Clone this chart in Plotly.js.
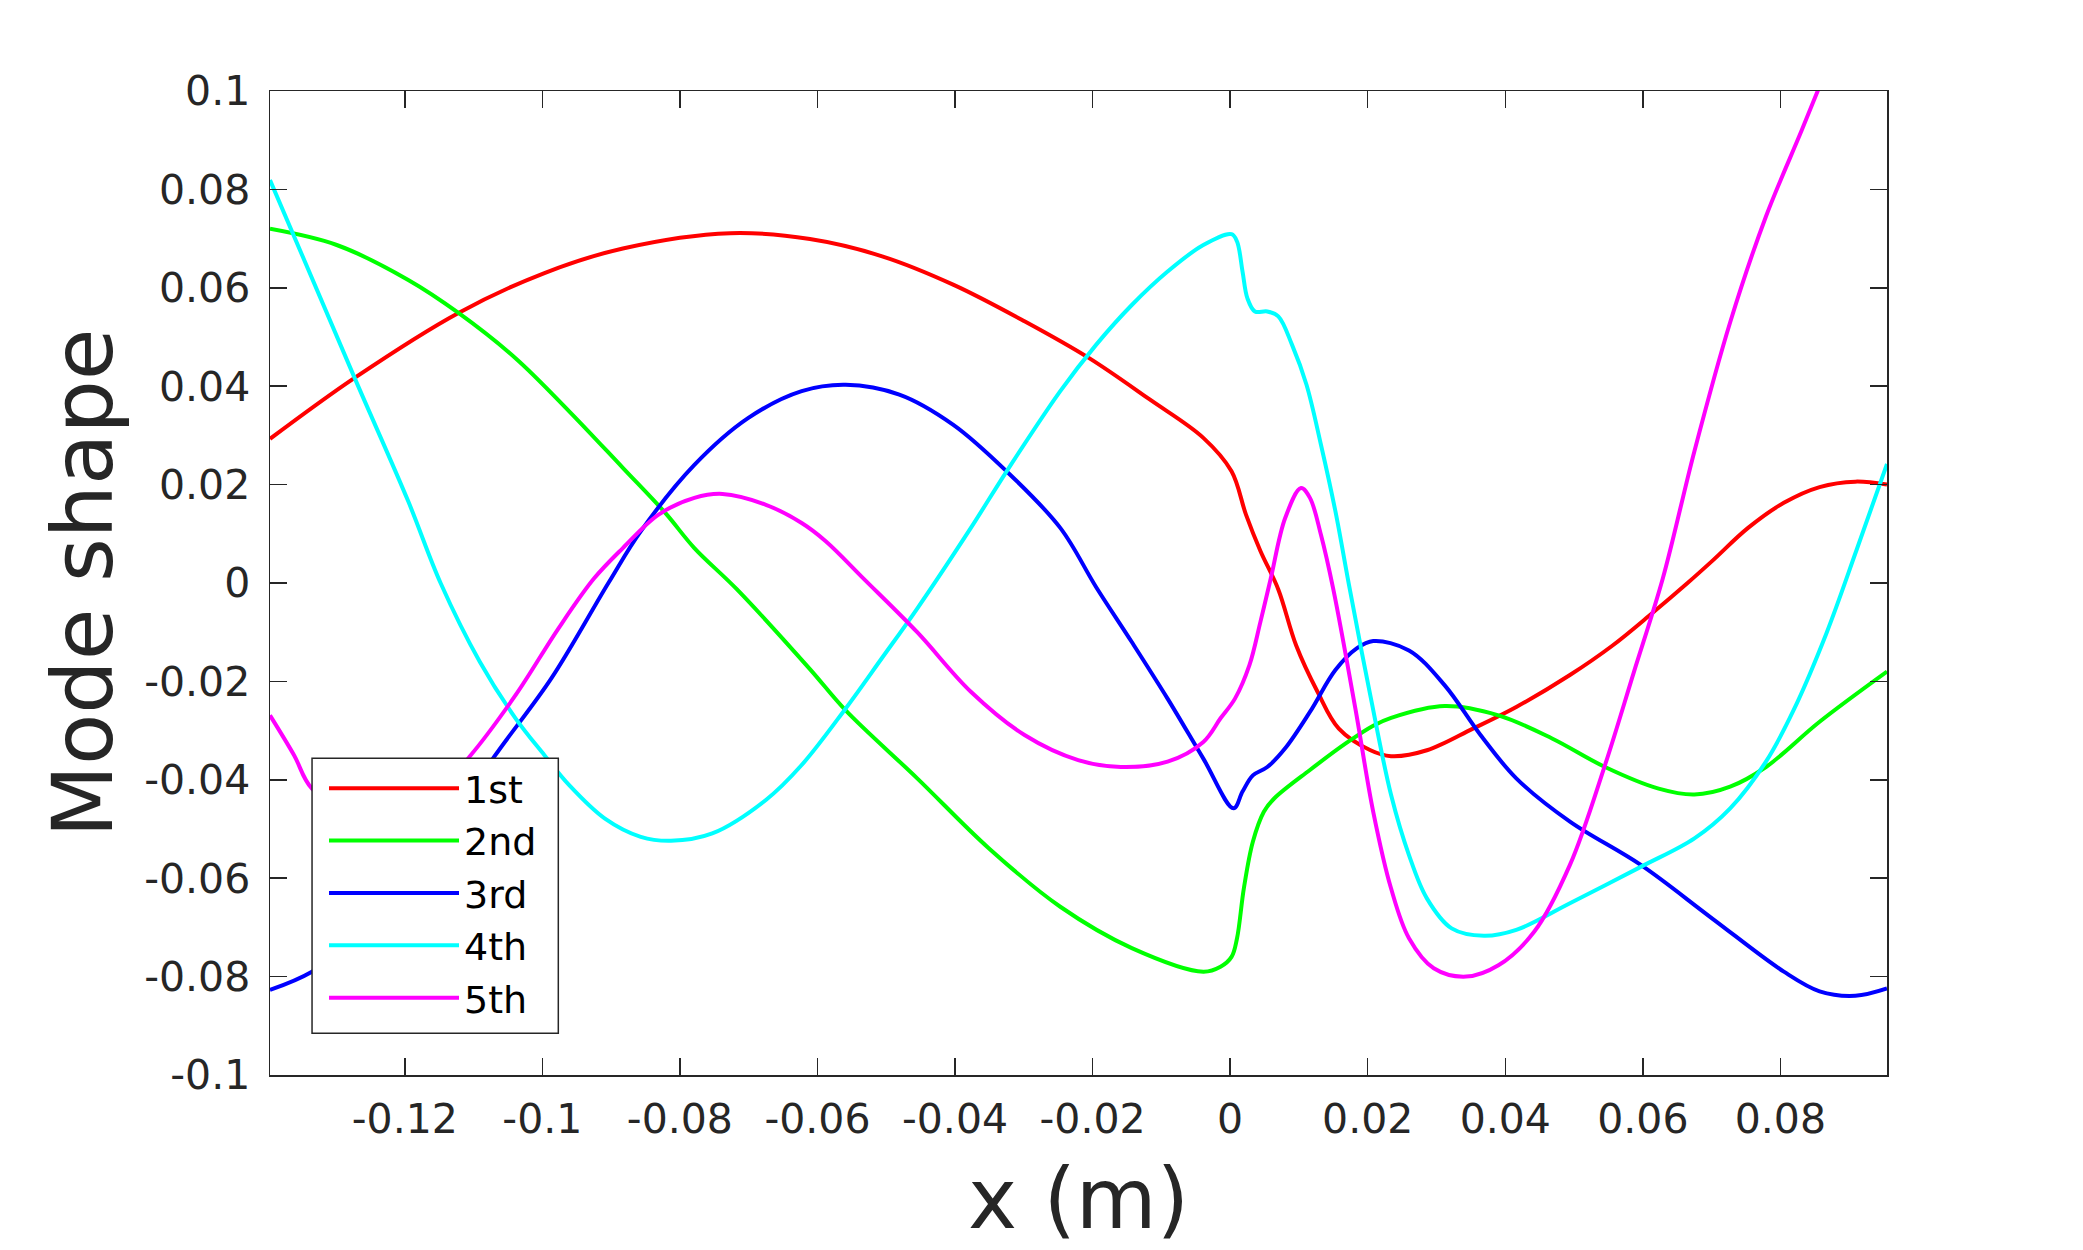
<!DOCTYPE html>
<html>
<head>
<meta charset="utf-8">
<script src="https://cdn.plot.ly/plotly-3.0.1.min.js"></script>
<style>
  html, body { margin: 0; padding: 0; background: #fff; }
  #chart { width: 2083px; height: 1250px; }
</style>
</head>
<body>
<div id="chart"></div>
<script>
// mode shapes (x in m)
const modeNames = ['1st', '2nd', '3rd', '4th', '5th'];

const x1st = [-0.1396, -0.1273, -0.1122, -0.0997, -0.0883, -0.0727, -0.0611, -0.0506, -0.0402, -0.0299, -0.0205, -0.0117, -0.0039, 0.0002, 0.0023, 0.0044, 0.0070, 0.0096, 0.0127, 0.0158, 0.0204, 0.0234, 0.0286, 0.0353, 0.0416, 0.0494, 0.0556, 0.0613, 0.0665, 0.0701, 0.0753, 0.0805, 0.0857, 0.0909, 0.0955];
const y1st = [0.0293, 0.0417, 0.0549, 0.0630, 0.0680, 0.0711, 0.0699, 0.0664, 0.0606, 0.0532, 0.0457, 0.0373, 0.0295, 0.0227, 0.0139, 0.0065, -0.0013, -0.0127, -0.0221, -0.0296, -0.0340, -0.0352, -0.0340, -0.0296, -0.0252, -0.0187, -0.0127, -0.0062, 0.0000, 0.0045, 0.0112, 0.0163, 0.0195, 0.0206, 0.0200];

const x2nd = [-0.1396, -0.1299, -0.1195, -0.1122, -0.1039, -0.0961, -0.0883, -0.0821, -0.0779, -0.0717, -0.0611, -0.0559, -0.0455, -0.0351, -0.0247, -0.0143, -0.0039, -0.0014, 0.0002, 0.0010, 0.0020, 0.0033, 0.0049, 0.0064, 0.0116, 0.0168, 0.0208, 0.0234, 0.0312, 0.0390, 0.0468, 0.0545, 0.0623, 0.0675, 0.0727, 0.0779, 0.0857, 0.0955];
const y2nd = [0.0720, 0.0687, 0.0616, 0.0549, 0.0457, 0.0349, 0.0234, 0.0142, 0.0071, -0.0013, -0.0175, -0.0259, -0.0397, -0.0539, -0.0658, -0.0742, -0.0790, -0.0780, -0.0760, -0.0722, -0.0620, -0.0526, -0.0465, -0.0438, -0.0380, -0.0326, -0.0290, -0.0274, -0.0250, -0.0269, -0.0316, -0.0374, -0.0418, -0.0430, -0.0414, -0.0374, -0.0282, -0.0180];

const x3rd = [-0.1396, -0.1335, -0.1250, -0.1160, -0.1070, -0.0987, -0.0904, -0.0857, -0.0779, -0.0701, -0.0623, -0.0559, -0.0481, -0.0403, -0.0325, -0.0247, -0.0195, -0.0143, -0.0091, -0.0039, 0.0005, 0.0018, 0.0033, 0.0054, 0.0080, 0.0116, 0.0153, 0.0184, 0.0208, 0.0260, 0.0312, 0.0364, 0.0416, 0.0494, 0.0597, 0.0701, 0.0805, 0.0857, 0.0909, 0.0955];
const y3rd = [-0.0827, -0.0790, -0.0700, -0.0540, -0.0353, -0.0194, 0.0000, 0.0105, 0.0240, 0.0335, 0.0390, 0.0403, 0.0383, 0.0322, 0.0227, 0.0112, -0.0008, -0.0120, -0.0235, -0.0357, -0.0458, -0.0424, -0.0391, -0.0374, -0.0336, -0.0262, -0.0177, -0.0133, -0.0118, -0.0137, -0.0208, -0.0309, -0.0397, -0.0485, -0.0573, -0.0682, -0.0790, -0.0830, -0.0839, -0.0824];

const x4th = [-0.1396, -0.1273, -0.1195, -0.1148, -0.1091, -0.1039, -0.0997, -0.0961, -0.0909, -0.0857, -0.0813, -0.0753, -0.0675, -0.0623, -0.0559, -0.0507, -0.0455, -0.0377, -0.0325, -0.0247, -0.0195, -0.0143, -0.0091, -0.0039, 0.0002, 0.0010, 0.0018, 0.0025, 0.0036, 0.0054, 0.0070, 0.0090, 0.0111, 0.0132, 0.0153, 0.0174, 0.0204, 0.0234, 0.0260, 0.0286, 0.0322, 0.0369, 0.0416, 0.0494, 0.0597, 0.0675, 0.0727, 0.0779, 0.0819, 0.0867, 0.0911, 0.0955];
const y4th = [0.0819, 0.0417, 0.0166, 0.0000, -0.0160, -0.0275, -0.0350, -0.0411, -0.0479, -0.0516, -0.0524, -0.0509, -0.0441, -0.0370, -0.0255, -0.0154, -0.0052, 0.0112, 0.0227, 0.0390, 0.0484, 0.0565, 0.0633, 0.0687, 0.0709, 0.0694, 0.0633, 0.0579, 0.0552, 0.0552, 0.0542, 0.0484, 0.0403, 0.0281, 0.0146, -0.0013, -0.0230, -0.0431, -0.0553, -0.0641, -0.0702, -0.0717, -0.0705, -0.0651, -0.0577, -0.0519, -0.0458, -0.0363, -0.0259, -0.0102, 0.0068, 0.0242];

const x5th = [-0.1396, -0.1361, -0.1335, -0.1250, -0.1180, -0.1106, -0.1039, -0.0977, -0.0925, -0.0883, -0.0831, -0.0779, -0.0738, -0.0675, -0.0623, -0.0588, -0.0533, -0.0455, -0.0377, -0.0299, -0.0221, -0.0159, -0.0091, -0.0039, -0.0014, 0.0007, 0.0028, 0.0044, 0.0059, 0.0080, 0.0103, 0.0116, 0.0132, 0.0150, 0.0182, 0.0208, 0.0234, 0.0260, 0.0296, 0.0343, 0.0390, 0.0442, 0.0494, 0.0545, 0.0587, 0.0629, 0.0675, 0.0727, 0.0779, 0.0831, 0.0860];
const y5th = [-0.0269, -0.0350, -0.0418, -0.0495, -0.0460, -0.0353, -0.0228, -0.0093, 0.0009, 0.0071, 0.0139, 0.0173, 0.0181, 0.0159, 0.0122, 0.0085, 0.0009, -0.0100, -0.0221, -0.0309, -0.0360, -0.0374, -0.0363, -0.0323, -0.0275, -0.0235, -0.0167, -0.0079, 0.0009, 0.0132, 0.0193, 0.0173, 0.0098, -0.0013, -0.0255, -0.0465, -0.0621, -0.0722, -0.0783, -0.0800, -0.0777, -0.0709, -0.0573, -0.0370, -0.0181, 0.0009, 0.0268, 0.0530, 0.0745, 0.0920, 0.1020];

const xTickVals = [-0.12, -0.1, -0.08, -0.06, -0.04, -0.02, 0, 0.02, 0.04, 0.06, 0.08];
const xTickText = ['-0.12', '-0.1', '-0.08', '-0.06', '-0.04', '-0.02', '0', '0.02', '0.04', '0.06', '0.08'];
const yTickVals = [0.1, 0.08, 0.06, 0.04, 0.02, 0, -0.02, -0.04, -0.06, -0.08, -0.1];
const yTickText = ['0.1', '0.08', '0.06', '0.04', '0.02', '0', '-0.02', '-0.04', '-0.06', '-0.08', '-0.1'];

const xs = [x1st, x2nd, x3rd, x4th, x5th];
const ys = [y1st, y2nd, y3rd, y4th, y5th];
const lineColors = ['#ff0000', '#00ff00', '#0000ff', '#00ffff', '#ff00ff'];

const ink = '#262626';

const traces = modeNames.map((name, i) => ({
  x: xs[i],
  y: ys[i],
  type: 'scatter',
  mode: 'lines',
  name: name,
  line: { color: lineColors[i], width: 4, shape: 'spline', smoothing: 1 }
}));

const axisCommon = {
  showline: true,
  linecolor: ink,
  linewidth: 1.5,
  mirror: 'ticks',
  ticks: 'inside',
  ticklen: 17,
  tickwidth: 1.5,
  tickcolor: ink,
  tickfont: { family: 'DejaVu Sans', size: 41, color: ink },
  showgrid: false,
  zeroline: false,
  tickmode: 'array'
};

const layout = {
  width: 2083,
  height: 1250,
  paper_bgcolor: '#ffffff',
  plot_bgcolor: '#ffffff',
  font: { family: 'DejaVu Sans', color: ink },
  margin: { l: 270, r: 196, t: 91, b: 175 },
  xaxis: Object.assign({}, axisCommon, {
    range: [-0.1396, 0.0955],
    tickvals: xTickVals,
    ticktext: xTickText,
    ticklabelstandoff: 7,
    title: { text: 'x (m)', font: { family: 'DejaVu Sans', size: 83, color: ink }, standoff: 28 }
  }),
  yaxis: Object.assign({}, axisCommon, {
    range: [-0.1, 0.1],
    tickvals: yTickVals,
    ticktext: yTickText,
    ticklabelstandoff: 10,
    title: { text: 'Mode shape', font: { family: 'DejaVu Sans', size: 84, color: ink }, standoff: 4 }
  }),
  // legend frame drawn as a shape over the curves, legend entries sit inside it
  shapes: [{
    type: 'rect',
    xref: 'paper',
    yref: 'paper',
    x0: 0.026,
    x1: 0.1783,
    y0: 0.0424,
    y1: 0.3218,
    layer: 'above',
    fillcolor: '#ffffff',
    line: { color: ink, width: 1.5 }
  }],
  showlegend: true,
  legend: {
    x: 0.0334,
    y: 0.3232,
    xanchor: 'left',
    yanchor: 'top',
    bgcolor: 'rgba(0,0,0,0)',
    borderwidth: 0,
    itemwidth: 130,
    font: { family: 'DejaVu Sans', size: 38, color: '#000000' }
  }
};

Plotly.newPlot('chart', traces, layout, { displayModeBar: false, staticPlot: true });
</script>
</body>
</html>
